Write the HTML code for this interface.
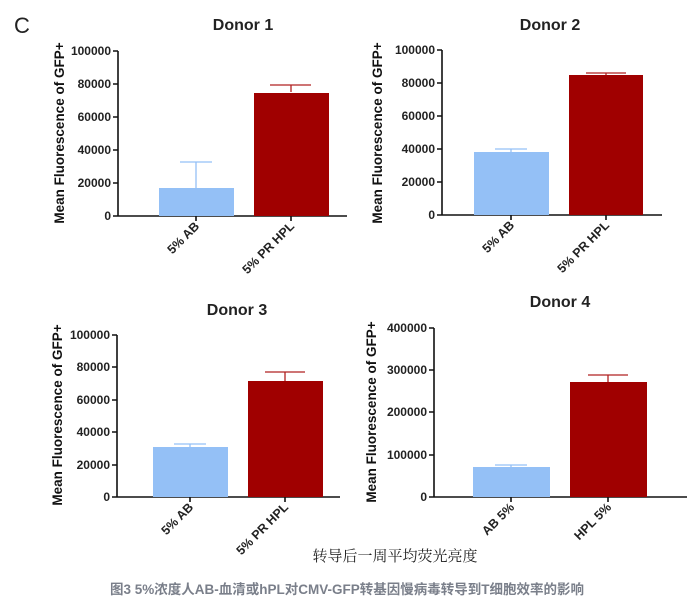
<!DOCTYPE html>
<html><head><meta charset="utf-8"><style>
body{margin:0;background:#fff;width:694px;height:602px;overflow:hidden}
svg{display:block}
text{font-family:"Liberation Sans","Noto Sans CJK SC",sans-serif}
.t{font-size:16px;font-weight:bold;fill:#222}
.k{font-size:12px;font-weight:bold;fill:#222;text-anchor:end}
.yl{font-size:13.5px;font-weight:bold;fill:#111;text-anchor:middle}
.xl{font-size:12.5px;font-weight:bold;fill:#222;text-anchor:end}
.ax{stroke:#111;stroke-width:1.6;fill:none}
.b{fill:#94c0f6}.r{fill:#a00000}
.eb{stroke:#94c0f6;stroke-width:1.3;fill:none}.er{stroke:#b02020;stroke-width:1.3;fill:none}
</style></head><body>
<svg width="694" height="602" viewBox="0 0 694 602">
<text x="14" y="33" style="font-size:22px;fill:#222">C</text>

<!-- Panel 1 -->
<text class="t" x="243" y="30" text-anchor="middle">Donor 1</text>
<text class="yl" transform="translate(64,133) rotate(-90)">Mean Fluorescence of GFP+</text>
<path class="ax" d="M118,51V216H347M113,51H118M113,84H118M113,117H118M113,150H118M113,183H118M113,216H118M196,216V221M291,216V221"/>
<text class="k" x="111" y="55">100000</text><text class="k" x="111" y="88">80000</text><text class="k" x="111" y="121">60000</text><text class="k" x="111" y="154">40000</text><text class="k" x="111" y="187">20000</text><text class="k" x="111" y="220">0</text>
<path class="eb" d="M196,188V162M180,162H212"/><rect class="b" x="159" y="188" width="75" height="28"/>
<path class="er" d="M291,92V85M270,85H311"/><rect class="r" x="254" y="93" width="75" height="123"/>
<text class="xl" transform="translate(200,227) rotate(-45)">5% AB</text>
<text class="xl" transform="translate(295,227) rotate(-45)">5% PR HPL</text>

<!-- Panel 2 -->
<text class="t" x="550" y="30" text-anchor="middle">Donor 2</text>
<text class="yl" transform="translate(382,133) rotate(-90)">Mean Fluorescence of GFP+</text>
<path class="ax" d="M442,50V215H662M437,50H442M437,83H442M437,116H442M437,149H442M437,182H442M437,215H442M511,215V220M606,215V220"/>
<text class="k" x="435" y="54">100000</text><text class="k" x="435" y="87">80000</text><text class="k" x="435" y="120">60000</text><text class="k" x="435" y="153">40000</text><text class="k" x="435" y="186">20000</text><text class="k" x="435" y="219">0</text>
<path class="eb" d="M511,152V149M495,149H527"/><rect class="b" x="474" y="152" width="75" height="63"/>
<path class="er" d="M606,75V73M586,73H626"/><rect class="r" x="569" y="75" width="74" height="140"/>
<text class="xl" transform="translate(515,226) rotate(-45)">5% AB</text>
<text class="xl" transform="translate(610,226) rotate(-45)">5% PR HPL</text>

<!-- Panel 3 -->
<text class="t" x="237" y="315" text-anchor="middle">Donor 3</text>
<text class="yl" transform="translate(62,415) rotate(-90)">Mean Fluorescence of GFP+</text>
<path class="ax" d="M117,335V497H340M112,335H117M112,367H117M112,400H117M112,432H117M112,465H117M112,497H117M190,497V502M285,497V502"/>
<text class="k" x="110" y="339">100000</text><text class="k" x="110" y="371">80000</text><text class="k" x="110" y="404">60000</text><text class="k" x="110" y="436">40000</text><text class="k" x="110" y="469">20000</text><text class="k" x="110" y="501">0</text>
<path class="eb" d="M190,447V444M174,444H206"/><rect class="b" x="153" y="447" width="75" height="50"/>
<path class="er" d="M285,381V372M265,372H305"/><rect class="r" x="248" y="381" width="75" height="116"/>
<text class="xl" transform="translate(194,508) rotate(-45)">5% AB</text>
<text class="xl" transform="translate(289,508) rotate(-45)">5% PR HPL</text>

<!-- Panel 4 -->
<text class="t" x="560" y="307" text-anchor="middle">Donor 4</text>
<text class="yl" transform="translate(376,412) rotate(-90)">Mean Fluorescence of GFP+</text>
<path class="ax" d="M434,328V497H687M429,328H434M429,370H434M429,412H434M429,455H434M429,497H434M511,497V502M608,497V502"/>
<text class="k" x="427" y="332">400000</text><text class="k" x="427" y="374">300000</text><text class="k" x="427" y="416">200000</text><text class="k" x="427" y="459">100000</text><text class="k" x="427" y="501">0</text>
<path class="eb" d="M511,467V465M495,465H527"/><rect class="b" x="473" y="467" width="77" height="30"/>
<path class="er" d="M608,382V375M588,375H628"/><rect class="r" x="570" y="382" width="77" height="115"/>
<text class="xl" transform="translate(515,508) rotate(-45)">AB 5%</text>
<text class="xl" transform="translate(612,508) rotate(-45)">HPL 5%</text>

<text x="395" y="561" text-anchor="middle" style="font-family:'Liberation Serif','Noto Serif CJK SC',serif;font-size:15px;fill:#222">转导后一周平均荧光亮度</text>
<text x="347" y="594" text-anchor="middle" style="font-size:13.5px;font-weight:bold;fill:#7a7f8a">图3 5%浓度人AB-血清或hPL对CMV-GFP转基因慢病毒转导到T细胞效率的影响</text>
</svg>
</body></html>
